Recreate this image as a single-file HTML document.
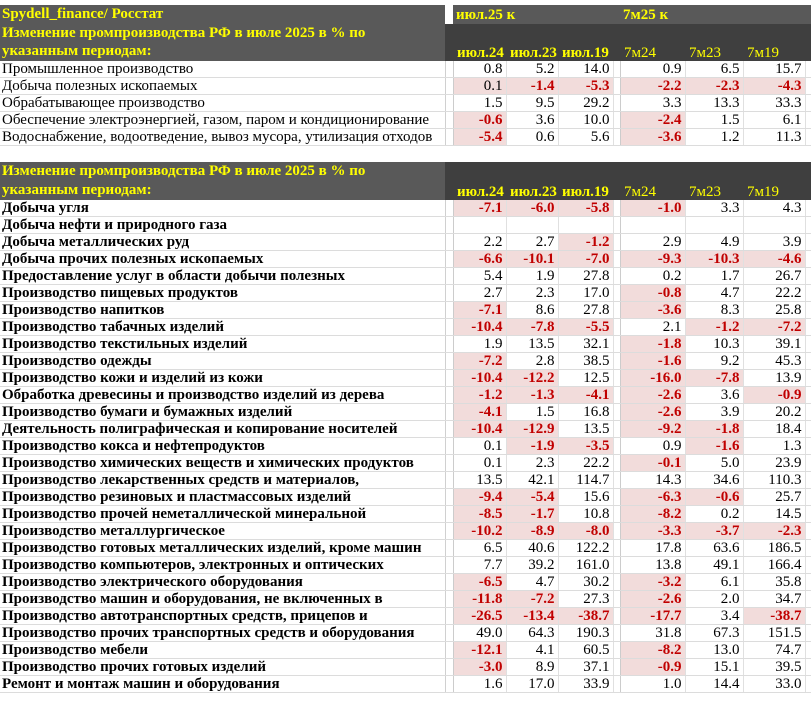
<!DOCTYPE html>
<html><head><meta charset="utf-8"><style>
body{margin:0;background:#fff;width:811px;height:701px;overflow:hidden;font-family:"Liberation Serif","Noto Serif CJK SC",serif;}
table{position:absolute;left:0;border-collapse:collapse;table-layout:fixed;width:811px;font-size:15px;}
td{padding:0;height:16px;line-height:16px;white-space:nowrap;overflow:hidden;border-bottom:1px solid #dcdcdc;}
td.l{padding-left:2px;border-right:1px solid #d0d0d0}
td.g{border-left:1px solid #ccc;border-right:1px solid #ccc}
td.n{text-align:right;padding-right:3px;border-right:1px solid #e0e0e0}
td.r{color:#c00000;font-weight:bold;background:#f2dcdb}
.b td.l{font-weight:bold}
.h td{color:#ffff00;font-weight:bold;border:none;background:#595959}
.h td.d{background:#3f3f3f}
.h td.w{background:#fff}
.h td.c{vertical-align:bottom;padding-left:4px}
.h td.c2{font-weight:normal}
</style></head><body>
<table style="top:5px">
<colgroup><col style="width:445px"><col style="width:8px"><col style="width:53px"><col style="width:52px"><col style="width:55px"><col style="width:7px"><col style="width:65px"><col style="width:58px"><col style="width:62px"><col style="width:6px"></colgroup>
<tr class="h"><td class="l" style="height:19px;line-height:19px">Spydell_finance/ Росстат</td><td class="w"></td><td colspan="3" style="padding-left:3px">июл.25 к</td><td></td><td colspan="4" style="padding-left:3px">7м25 к</td></tr>
<tr class="h"><td class="l" style="height:37px;line-height:18px;vertical-align:top">Изменение промпроизводства РФ в июле 2025 в % по<br>указанным периодам:</td><td class="d"></td><td class="d c">июл.24</td><td class="d c">июл.23</td><td class="d c">июл.19</td><td class="d"></td><td class="d c c2">7м24</td><td class="d c c2">7м23</td><td class="d c c2">7м19</td><td class="d"></td></tr>
<tr><td class="l">Промышленное производство</td><td class="g"></td><td class="n">0.8</td><td class="n">5.2</td><td class="n">14.0</td><td class="g"></td><td class="n">0.9</td><td class="n">6.5</td><td class="n">15.7</td><td></td></tr>
<tr><td class="l">Добыча полезных ископаемых</td><td class="g"></td><td class="n" style="background:#f2dcdb">0.1</td><td class="n r">-1.4</td><td class="n r">-5.3</td><td class="g"></td><td class="n r">-2.2</td><td class="n r">-2.3</td><td class="n r">-4.3</td><td></td></tr>
<tr><td class="l">Обрабатывающее производство</td><td class="g"></td><td class="n">1.5</td><td class="n">9.5</td><td class="n">29.2</td><td class="g"></td><td class="n">3.3</td><td class="n">13.3</td><td class="n">33.3</td><td></td></tr>
<tr><td class="l">Обеспечение электроэнергией, газом, паром и кондиционирование</td><td class="g"></td><td class="n r">-0.6</td><td class="n">3.6</td><td class="n">10.0</td><td class="g"></td><td class="n r">-2.4</td><td class="n">1.5</td><td class="n">6.1</td><td></td></tr>
<tr><td class="l">Водоснабжение, водоотведение, вывоз мусора, утилизация отходов</td><td class="g"></td><td class="n r">-5.4</td><td class="n">0.6</td><td class="n">5.6</td><td class="g"></td><td class="n r">-3.6</td><td class="n">1.2</td><td class="n">11.3</td><td></td></tr>
</table>
<table style="top:162px">
<colgroup><col style="width:445px"><col style="width:8px"><col style="width:53px"><col style="width:52px"><col style="width:55px"><col style="width:7px"><col style="width:65px"><col style="width:58px"><col style="width:62px"><col style="width:6px"></colgroup>
<tr class="h"><td class="l" style="height:38px;line-height:19px;vertical-align:top">Изменение промпроизводства РФ в июле 2025 в % по<br>указанным периодам:</td><td class="d"></td><td class="d c">июл.24</td><td class="d c">июл.23</td><td class="d c">июл.19</td><td class="d"></td><td class="d c c2">7м24</td><td class="d c c2">7м23</td><td class="d c c2">7м19</td><td class="d"></td></tr>
<tbody class="b">
<tr><td class="l">Добыча угля</td><td class="g"></td><td class="n r">-7.1</td><td class="n r">-6.0</td><td class="n r">-5.8</td><td class="g"></td><td class="n r">-1.0</td><td class="n">3.3</td><td class="n">4.3</td><td></td></tr>
<tr><td class="l">Добыча нефти и природного газа</td><td class="g"></td><td class="n"></td><td class="n"></td><td class="n"></td><td class="g"></td><td class="n"></td><td class="n"></td><td class="n"></td><td></td></tr>
<tr><td class="l">Добыча металлических руд</td><td class="g"></td><td class="n">2.2</td><td class="n">2.7</td><td class="n r">-1.2</td><td class="g"></td><td class="n">2.9</td><td class="n">4.9</td><td class="n">3.9</td><td></td></tr>
<tr><td class="l">Добыча прочих полезных ископаемых</td><td class="g"></td><td class="n r">-6.6</td><td class="n r">-10.1</td><td class="n r">-7.0</td><td class="g"></td><td class="n r">-9.3</td><td class="n r">-10.3</td><td class="n r">-4.6</td><td></td></tr>
<tr><td class="l">Предоставление услуг в области добычи полезных</td><td class="g"></td><td class="n">5.4</td><td class="n">1.9</td><td class="n">27.8</td><td class="g"></td><td class="n">0.2</td><td class="n">1.7</td><td class="n">26.7</td><td></td></tr>
<tr><td class="l">Производство пищевых продуктов</td><td class="g"></td><td class="n">2.7</td><td class="n">2.3</td><td class="n">17.0</td><td class="g"></td><td class="n r">-0.8</td><td class="n">4.7</td><td class="n">22.2</td><td></td></tr>
<tr><td class="l">Производство напитков</td><td class="g"></td><td class="n r">-7.1</td><td class="n">8.6</td><td class="n">27.8</td><td class="g"></td><td class="n r">-3.6</td><td class="n">8.3</td><td class="n">25.8</td><td></td></tr>
<tr><td class="l">Производство табачных изделий</td><td class="g"></td><td class="n r">-10.4</td><td class="n r">-7.8</td><td class="n r">-5.5</td><td class="g"></td><td class="n">2.1</td><td class="n r">-1.2</td><td class="n r">-7.2</td><td></td></tr>
<tr><td class="l">Производство текстильных изделий</td><td class="g"></td><td class="n">1.9</td><td class="n">13.5</td><td class="n">32.1</td><td class="g"></td><td class="n r">-1.8</td><td class="n">10.3</td><td class="n">39.1</td><td></td></tr>
<tr><td class="l">Производство одежды</td><td class="g"></td><td class="n r">-7.2</td><td class="n">2.8</td><td class="n">38.5</td><td class="g"></td><td class="n r">-1.6</td><td class="n">9.2</td><td class="n">45.3</td><td></td></tr>
<tr><td class="l">Производство кожи и изделий из кожи</td><td class="g"></td><td class="n r">-10.4</td><td class="n r">-12.2</td><td class="n">12.5</td><td class="g"></td><td class="n r">-16.0</td><td class="n r">-7.8</td><td class="n">13.9</td><td></td></tr>
<tr><td class="l">Обработка древесины и производство изделий из дерева</td><td class="g"></td><td class="n r">-1.2</td><td class="n r">-1.3</td><td class="n r">-4.1</td><td class="g"></td><td class="n r">-2.6</td><td class="n">3.6</td><td class="n r">-0.9</td><td></td></tr>
<tr><td class="l">Производство бумаги и бумажных изделий</td><td class="g"></td><td class="n r">-4.1</td><td class="n">1.5</td><td class="n">16.8</td><td class="g"></td><td class="n r">-2.6</td><td class="n">3.9</td><td class="n">20.2</td><td></td></tr>
<tr><td class="l">Деятельность полиграфическая и копирование носителей</td><td class="g"></td><td class="n r">-10.4</td><td class="n r">-12.9</td><td class="n">13.5</td><td class="g"></td><td class="n r">-9.2</td><td class="n r">-1.8</td><td class="n">18.4</td><td></td></tr>
<tr><td class="l">Производство кокса и нефтепродуктов</td><td class="g"></td><td class="n">0.1</td><td class="n r">-1.9</td><td class="n r">-3.5</td><td class="g"></td><td class="n">0.9</td><td class="n r">-1.6</td><td class="n">1.3</td><td></td></tr>
<tr><td class="l">Производство химических веществ и химических продуктов</td><td class="g"></td><td class="n">0.1</td><td class="n">2.3</td><td class="n">22.2</td><td class="g"></td><td class="n r">-0.1</td><td class="n">5.0</td><td class="n">23.9</td><td></td></tr>
<tr><td class="l">Производство лекарственных средств и материалов,</td><td class="g"></td><td class="n">13.5</td><td class="n">42.1</td><td class="n">114.7</td><td class="g"></td><td class="n">14.3</td><td class="n">34.6</td><td class="n">110.3</td><td></td></tr>
<tr><td class="l">Производство резиновых и пластмассовых изделий</td><td class="g"></td><td class="n r">-9.4</td><td class="n r">-5.4</td><td class="n">15.6</td><td class="g"></td><td class="n r">-6.3</td><td class="n r">-0.6</td><td class="n">25.7</td><td></td></tr>
<tr><td class="l">Производство прочей неметаллической минеральной</td><td class="g"></td><td class="n r">-8.5</td><td class="n r">-1.7</td><td class="n">10.8</td><td class="g"></td><td class="n r">-8.2</td><td class="n">0.2</td><td class="n">14.5</td><td></td></tr>
<tr><td class="l">Производство металлургическое</td><td class="g"></td><td class="n r">-10.2</td><td class="n r">-8.9</td><td class="n r">-8.0</td><td class="g"></td><td class="n r">-3.3</td><td class="n r">-3.7</td><td class="n r">-2.3</td><td></td></tr>
<tr><td class="l">Производство готовых металлических изделий, кроме машин</td><td class="g"></td><td class="n">6.5</td><td class="n">40.6</td><td class="n">122.2</td><td class="g"></td><td class="n">17.8</td><td class="n">63.6</td><td class="n">186.5</td><td></td></tr>
<tr><td class="l">Производство компьютеров, электронных и оптических</td><td class="g"></td><td class="n">7.7</td><td class="n">39.2</td><td class="n">161.0</td><td class="g"></td><td class="n">13.8</td><td class="n">49.1</td><td class="n">166.4</td><td></td></tr>
<tr><td class="l">Производство электрического оборудования</td><td class="g"></td><td class="n r">-6.5</td><td class="n">4.7</td><td class="n">30.2</td><td class="g"></td><td class="n r">-3.2</td><td class="n">6.1</td><td class="n">35.8</td><td></td></tr>
<tr><td class="l">Производство машин и оборудования, не включенных в</td><td class="g"></td><td class="n r">-11.8</td><td class="n r">-7.2</td><td class="n">27.3</td><td class="g"></td><td class="n r">-2.6</td><td class="n">2.0</td><td class="n">34.7</td><td></td></tr>
<tr><td class="l">Производство автотранспортных средств, прицепов и</td><td class="g"></td><td class="n r">-26.5</td><td class="n r">-13.4</td><td class="n r">-38.7</td><td class="g"></td><td class="n r">-17.7</td><td class="n">3.4</td><td class="n r">-38.7</td><td></td></tr>
<tr><td class="l">Производство прочих транспортных средств и оборудования</td><td class="g"></td><td class="n">49.0</td><td class="n">64.3</td><td class="n">190.3</td><td class="g"></td><td class="n">31.8</td><td class="n">67.3</td><td class="n">151.5</td><td></td></tr>
<tr><td class="l">Производство мебели</td><td class="g"></td><td class="n r">-12.1</td><td class="n">4.1</td><td class="n">60.5</td><td class="g"></td><td class="n r">-8.2</td><td class="n">13.0</td><td class="n">74.7</td><td></td></tr>
<tr><td class="l">Производство прочих готовых изделий</td><td class="g"></td><td class="n r">-3.0</td><td class="n">8.9</td><td class="n">37.1</td><td class="g"></td><td class="n r">-0.9</td><td class="n">15.1</td><td class="n">39.5</td><td></td></tr>
<tr><td class="l">Ремонт и монтаж машин и оборудования</td><td class="g"></td><td class="n">1.6</td><td class="n">17.0</td><td class="n">33.9</td><td class="g"></td><td class="n">1.0</td><td class="n">14.4</td><td class="n">33.0</td><td></td></tr>
</tbody>
</table>
</body></html>
